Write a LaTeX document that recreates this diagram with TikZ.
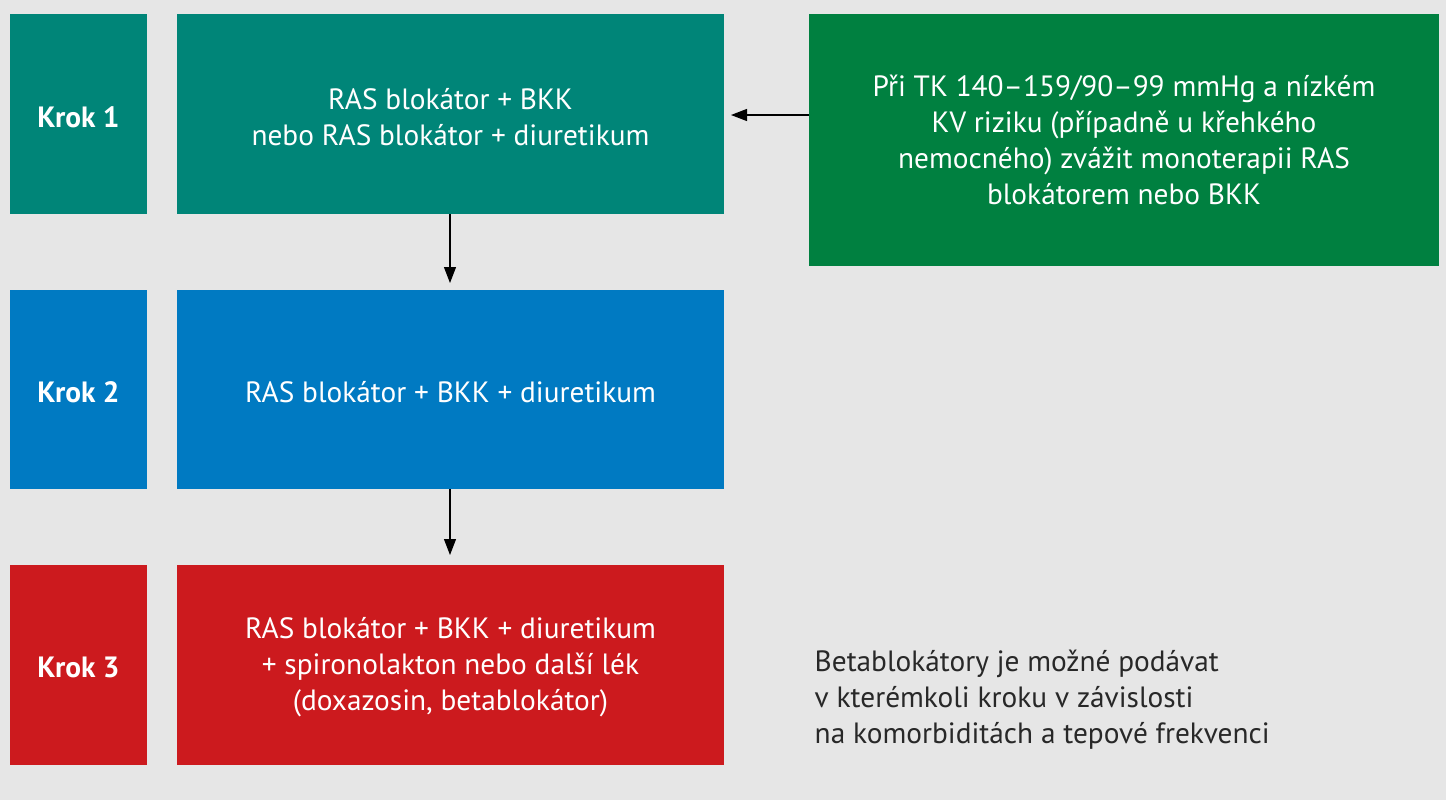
\documentclass[tikz,border=0pt]{standalone}
\usepackage{fontspec}
\setmainfont{PT Sans}
\usetikzlibrary{arrows.meta}
\definecolor{bg}{RGB}{230,230,230}
\definecolor{tealc}{RGB}{0,133,120}
\definecolor{greenc}{RGB}{0,128,64}
\definecolor{bluec}{RGB}{0,122,194}
\definecolor{redc}{RGB}{204,26,30}
\definecolor{notec}{RGB}{40,40,40}
\tikzset{
  stepbox/.style={text=white, font=\fontsize{22}{27}\selectfont\bfseries, inner sep=0pt},
  drugbox/.style={text=white, font=\fontsize{22}{27}\selectfont, align=center, inner sep=0pt},
  arr/.style={-{Triangle[length=12pt,width=9pt]}, line width=0.8pt}
}
\begin{document}
\begin{tikzpicture}[x=0.75pt,y=0.75pt,yscale=-1,xscale=1]
    \fill[bg] (0,0) rectangle (1446,800);
    \useasboundingbox (0,0) rectangle (1446,800);

    %Row 1
    \fill[tealc] (10,14) rectangle (147,214);
    \fill[tealc] (177,14) rectangle (724,214);
    \fill[greenc] (809,14) rectangle (1439,266);
    \node[stepbox] (k1) at (78.5,117) {Krok 1};
    \node[drugbox] (b1) at (450.5,117) {RAS blokátor + BKK\\nebo RAS blokátor + diuretikum};
    \node[drugbox] (mono) at (1124,140) {Při TK 140–159/90–99 mmHg a nízkém\\KV riziku (případně u křehkého\\nemocného) zvážit monoterapii RAS\\blokátorem nebo BKK};

    %Row 2
    \fill[bluec] (10,290) rectangle (147,489);
    \fill[bluec] (177,290) rectangle (724,489);
    \node[stepbox] (k2) at (78.5,392) {Krok 2};
    \node[drugbox] (b2) at (450.5,392) {RAS blokátor + BKK + diuretikum};

    %Row 3
    \fill[redc] (10,565) rectangle (147,765);
    \fill[redc] (177,565) rectangle (724,765);
    \node[stepbox] (k3) at (78.5,667) {Krok 3};
    \node[drugbox] (b3) at (450.5,667) {RAS blokátor + BKK + diuretikum\\+ spironolakton nebo další lék\\(doxazosin, betablokátor)};

    % note
    \node[anchor=west, align=left, text=notec, font=\fontsize{22}{27}\selectfont] (note) at (810,700) {Betablokátory je možné podávat\\v kterémkoli kroku v závislosti\\na komorbiditách a tepové frekvenci};

    % connectors
    \coordinate (t1) at (450,214);
    \coordinate (h1) at (450,283);
    \coordinate (t2) at (450,489);
    \coordinate (h2) at (450,555);
    \coordinate (t3) at (809,115);
    \coordinate (h3) at (731,115);
    \draw[arr] (t1) -- (h1);
    \draw[arr] (t2) -- (h2);
    \draw[arr] (t3) -- (h3);
\end{tikzpicture}
\end{document}
